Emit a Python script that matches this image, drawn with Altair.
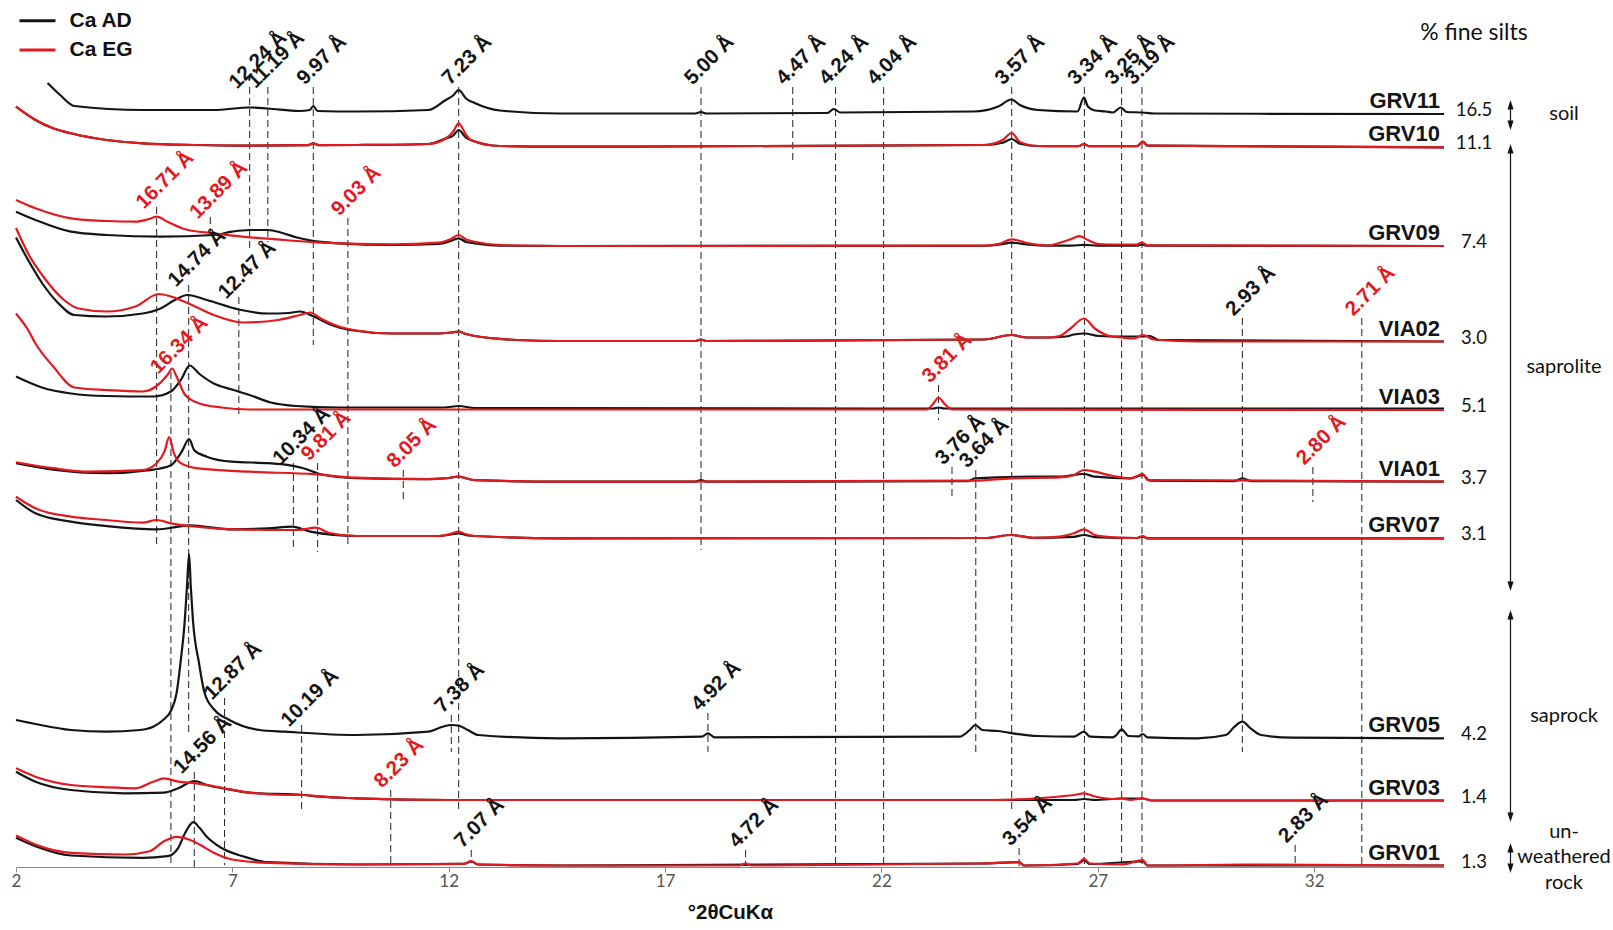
import altair as alt
import pandas as pd

# ---------------- data ----------------
SAMPLES = ["GRV11", "GRV10", "GRV09", "VIA02", "VIA03", "VIA01", "GRV07", "GRV05", "GRV03", "GRV01"]
FINE_SILTS = ["16.5", "11.1", "7.4", "3.0", "5.1", "3.7", "3.1", "4.2", "1.4", "1.3"]
OFFSETS = [753.5, 720.3, 621, 525.5, 457.5, 385.3, 328.7, 128.7, 66.5, 1.5]

GRV11_AD_2T = [2.73, 3.02, 3.35, 4.93, 6.57, 7.40, 7.82, 8.55, 8.79, 8.87, 8.97, 9.87, 11.53, 11.93, 12.1, 12.23, 12.4, 12.6, 13.18, 14.57,
               17.7, 17.83, 17.95, 20.75, 20.90, 21.05, 24.13, 24.70, 25.0, 25.2, 25.62, 26.53, 26.68, 26.77, 26.93, 27.19, 27.35, 27.53, 27.67, 28.02,
               28.3, 35.0]
GRV11_AD_I = [30.5, 18.5, 7.5, 3.5, 3.5, 6, 5, 2.5, 3.5, 7.5, 2.5, 2, 3.5, 13.5, 18, 23.5, 15, 10.5, 3, 0,
              0, 1.5, 0, 0.5, 4.5, 1, 2, 7, 14, 8.5, 3.5, 2, 16, 7, 3, 2, 1, 6, 1.5, 1,
              0, -0.5]

GRV10_2T = [2.0, 2.45, 2.86, 3.27, 4.09, 4.93, 6.15, 7.40, 8.75, 8.87, 9.0, 9.87, 11.53, 11.94, 12.1, 12.23, 12.4, 12.51, 13.18, 14.57,
            24.37, 24.80, 25.01, 25.2, 25.62, 26.55, 26.68, 26.8, 27.9, 28.04, 28.15, 35.0]
GRV10_EG_I = [40, 26.7, 18.4, 13.4, 6.7, 3.4, 1.7, 1, 1.5, 3.4, 1.5, 1.7, 2.7, 8.4, 15, 23.4, 12, 6.7, 0.7, 0,
              1.7, 6.7, 13.7, 4.7, 0.7, 0.5, 2.7, 0.5, 0.5, 5, 1, -0.6]
GRV10_AD_I = [40, 26.7, 18.4, 13.4, 6.7, 3.4, 1.7, 1, 1.5, 3.4, 1.5, 1.7, 2.7, 8.4, 11, 16.7, 9, 6.7, 0.7, 0,
              1.7, 4, 7.7, 3, 0.7, 0.5, 2.7, 0.5, 0.5, 5, 1, -0.6]

GRV09_EG_2T = [2.0, 2.45, 3.27, 4.09, 4.76, 5.05, 5.25, 5.50, 5.91, 6.57, 7.40, 8.22, 9.04, 10.70, 11.77, 12.05, 12.23, 12.4, 12.6, 13.18,
               14.57, 24.37, 24.75, 25.01, 25.36, 25.86, 26.12, 26.37, 26.57, 26.77, 27.02, 27.4, 27.9, 28.02, 28.15, 35.0]
GRV09_EG_I = [46, 37.7, 27.7, 25, 24.3, 26.7, 29.3, 24.3, 16.7, 12.7, 8.7, 6, 3.3, 1.7, 3.3, 7, 11, 6.5, 4.3, 1,
              0, 0.3, 2.5, 6.7, 3, 0.5, 3.3, 6.7, 9.8, 6, 2, 1.5, 1.5, 3.3, 0.7, 0]
GRV09_AD_2T = [2.0, 2.45, 3.27, 4.09, 5.34, 6.57, 6.99, 7.40, 7.82, 8.14, 8.47, 8.82, 9.46, 10.70, 11.77, 12.05, 12.23, 12.4, 12.6, 13.18,
               14.57, 24.37, 24.75, 25.01, 25.36, 25.86, 26.4, 26.68, 27.0, 27.9, 28.02, 28.15, 35.0]
GRV09_AD_I = [34.3, 26, 14.3, 11, 9.3, 11, 14.3, 16, 16, 13.3, 8.7, 5.3, 2.7, 1, 2, 5, 7.7, 4, 2.7, 0.3,
              0, 0.2, 1.5, 3.3, 1.5, 0.3, 0.3, 1.2, 0.3, 0.3, 1.5, 0.3, 0]

VIA02_AD_2T = [2.0, 2.28, 2.61, 2.94, 3.35, 4.09, 4.93, 5.34, 5.67, 5.96, 6.41, 7.15, 7.82, 8.3, 8.56, 8.88, 9.29, 9.71, 10.70, 11.77,
               12.05, 12.23, 12.4, 12.6, 13.59, 14.57, 17.7, 17.83, 17.95, 24.37, 25.0, 25.36, 25.86, 26.26, 26.45, 26.69, 27.02, 27.55, 28.04, 28.2,
               28.4, 35.0]
VIA02_AD_I = [104, 81.5, 58, 40, 26.5, 25, 28, 33, 41.5, 46.5, 41.5, 32, 28, 28.5, 30, 25, 16.5, 11.5, 8, 8,
              9, 10, 7.5, 5.5, 1.5, 0.5, 0.5, 2, 0.5, 2, 6.5, 4, 4, 5, 7, 8, 5.5, 5, 5, 5.5,
              1.5, 0]
VIA02_EG_2T = [2.0, 2.28, 2.69, 3.11, 3.44, 4.09, 4.76, 5.30, 5.58, 5.99, 6.57, 7.24, 8.06, 8.56, 8.80, 9.04, 9.46, 9.87, 10.70, 11.77,
               12.05, 12.23, 12.4, 12.6, 13.59, 14.57, 17.7, 17.83, 17.95, 24.37, 25.0, 25.36, 25.86, 26.12, 26.37, 26.68, 26.93, 27.27, 27.55, 27.83,
               28.04, 28.29, 29.3, 35.0]
VIA02_EG_I = [113.5, 88, 61.5, 41.5, 33, 30, 35, 47.5, 45, 38, 26.5, 19, 21.5, 26.5, 29, 23, 15, 11, 8, 8,
              9, 10, 7.5, 5.5, 1.5, 0.5, 0.5, 2, 0.5, 2, 6.5, 4, 4, 5.5, 13, 23, 13, 5.5, 4, 3,
              6.5, 2, 0, 0]

VIA03_EG_2T = [2.0, 2.28, 2.45, 2.86, 3.35, 4.09, 4.92, 5.25, 5.50, 5.61, 5.71, 5.91, 6.24, 6.74, 7.40, 23.05, 23.2, 23.32, 23.45, 23.63, 35.0]
VIA03_EG_I = [96, 79.5, 66, 43, 22, 19.5, 18, 23.5, 34.5, 41, 33, 14.5, 6, 2, 0, 0, 6, 12, 6, 0, -0.5]
VIA03_AD_2T = [2.0, 2.6, 3.27, 4.09, 5.17, 5.58, 5.83, 6.01, 6.24, 6.57, 6.99, 7.40, 7.89, 8.47, 9.46, 11.9, 12.23, 12.6, 23.2, 23.32, 23.45, 35.0]
VIA03_AD_I = [33, 22, 16, 13.5, 13, 18, 31, 44, 35.5, 26, 20, 14.5, 7, 3.5, 2, 2, 3.5, 1.5, 1, 2, 1, 1]

VIA01_EG_2T = [2.0, 2.86, 3.69, 4.92, 5.25, 5.43, 5.54, 5.65, 5.79, 6.16, 7.40, 8.88, 9.87, 11.53, 11.95, 12.23, 12.6, 14.57, 24.16, 25.0,
               26.12, 26.45, 26.68, 26.93, 27.35, 27.75, 28.04, 28.15, 35.0]
VIA01_EG_I = [19.5, 13.5, 10, 11.5, 18.5, 30, 44.5, 28.5, 19, 13.5, 10, 7.5, 4, 2.5, 3.5, 5, 1.5, 0, 1, 3.4,
              4.3, 6.7, 11.7, 10, 5.7, 3.4, 7.7, 1.7, 0]
VIA01_AD_2T = [2.0, 2.86, 4.09, 5.09, 5.58, 5.83, 6.0, 6.12, 6.41, 6.99, 7.82, 8.30, 8.64, 9.04, 9.87, 11.53, 11.95, 12.23, 12.6, 14.57,
               17.7, 17.83, 17.95, 24.0, 24.16, 25.6, 26.12, 26.68, 26.93, 27.75, 28.04, 28.2, 30.15, 30.34, 30.55, 35.0]
VIA01_AD_I = [18.5, 12, 8.5, 11.5, 16.5, 30, 42.5, 31.5, 25, 20, 18.5, 16.5, 13.5, 7.5, 3.5, 2.5, 3.5, 5, 1.5, 0,
              0, 1.7, 0, 0.5, 3.4, 5, 5, 7.7, 5, 3.4, 6.7, 1, 0.5, 3.4, 0.5, 0]

GRV07_EG_2T = [2.0, 2.45, 3.27, 4.09, 4.92, 5.25, 5.58, 6.0, 6.99, 8.22, 8.50, 8.93, 9.22, 9.87, 11.77, 12.05, 12.23, 12.4, 12.6, 14.57,
               24.4, 25.0, 25.5, 26.12, 26.45, 26.68, 26.93, 27.35, 27.9, 28.04, 28.15, 35.0]
GRV07_EG_I = [41.6, 30, 21.6, 18.3, 15.6, 18.3, 15, 12.3, 9, 8.3, 8.3, 10.6, 5.6, 2.3, 2.3, 4.5, 6.6, 4, 2.3, 0,
              0.3, 3.3, 0.5, 1.7, 5, 9, 3.3, 1, 0.3, 2.3, 0, 0]
GRV07_AD_2T = [2.0, 2.45, 3.27, 4.09, 5.25, 5.75, 6.0, 6.99, 7.82, 8.39, 8.80, 9.87, 11.77, 12.05, 12.23, 12.4, 12.6, 14.57, 24.4, 25.0,
               25.5, 26.45, 26.68, 26.93, 27.9, 28.04, 28.15, 35.0]
GRV07_AD_I = [38.3, 25, 16.6, 12.3, 9, 11.6, 13, 9, 10, 11.6, 6.6, 2.3, 2.3, 3.8, 5, 3.2, 2.3, 0, 0.3, 3.3,
              0.5, 1.5, 3.3, 1.2, 0.3, 1.7, 0, 0]

GRV05_AD_2T = [2.0, 2.45, 3.27, 4.09, 4.86, 5.17, 5.40, 5.59, 5.71, 5.80, 5.90, 5.95, 6.0, 6.04, 6.09, 6.23, 6.36, 6.59, 6.93, 7.63,
               8.22, 9.87, 11.53, 11.86, 12.06, 12.23, 12.44, 12.68, 14.57, 17.85, 17.99, 18.14, 23.80, 24.04, 24.17, 24.33, 24.70, 25.03, 25.61, 26.45,
               26.68, 26.82, 27.35, 27.43, 27.55, 27.71, 27.95, 28.04, 28.15, 29.3, 29.96, 30.16, 30.34, 30.53, 30.77, 31.5, 35.0]
GRV05_AD_I = [18.3, 14.3, 8.3, 6.6, 8.3, 11.6, 18.3, 28.3, 45, 75, 117.6, 151, 184.3, 151, 117.6, 75, 45, 28.3, 18.3, 8.3,
              6.6, 3.3, 6.6, 11.6, 13.3, 12.6, 8.3, 3.3, 0, 1.6, 5, 1, 1.6, 8.3, 13.3, 8.3, 7.3, 5, 2.3, 1.6,
              6.6, 1.6, 1, 3.3, 9, 2.3, 2, 4.3, 1, 0, 3.3, 11.6, 16.6, 10, 3.3, 0.6, 0]

GRV03_EG_2T = [2.0, 2.45, 3.27, 4.09, 4.76, 5.17, 5.42, 5.75, 6.16, 6.82, 7.40, 8.22, 8.64, 9.04, 9.87, 12.0, 14.57, 24.5, 25.61, 26.12,
               26.45, 26.68, 26.93, 27.35, 27.55, 27.75, 28.04, 28.25, 35.0]
GRV03_EG_I = [32.2, 23.8, 15.5, 13.2, 12.2, 18.8, 22.2, 18.8, 17.2, 12.2, 7.8, 5.5, 5.5, 3.8, 2.2, 0.5, 0.5, 0.5, 2.2, 4,
              5.5, 7.2, 4, 1.5, 2, 0.5, 2, 0, 0]
GRV03_AD_2T = [2.0, 2.45, 3.27, 4.51, 5.42, 5.75, 6.12, 6.41, 6.91, 7.40, 8.64, 9.04, 9.87, 12.0, 14.57, 26.45, 26.68, 26.93, 27.55, 28.04, 28.25, 35.0]
GRV03_AD_I = [28.8, 18.8, 10.5, 7.2, 7.8, 12.2, 19.5, 15.5, 11.2, 7.8, 5.5, 3.8, 2.2, 0.5, 0.5, 0.5, 1.5, 0.5, 2, 2, 0, 0]

GRV01_EG_2T = [2.0, 2.45, 3.27, 4.51, 5.09, 5.42, 5.71, 6.0, 6.24, 6.57, 6.99, 7.82, 9.87, 12.35, 12.52, 12.68, 14.57, 18.7, 18.86, 19.0,
               24.29, 25.18, 25.3, 26.53, 26.68, 26.82, 27.55, 28.04, 28.15, 30.34, 35.0]
GRV01_EG_I = [30, 21, 12.7, 11, 14.3, 24.3, 28.7, 26, 21, 12.7, 6, 2.7, 1, 1.7, 4.3, 1, 0, 0, 2, 0,
              2, 3.3, 0, 2, 6.7, 2, 1, 5.3, 0, 1, 0]
GRV01_AD_2T = [2.0, 2.45, 3.27, 4.92, 5.50, 5.75, 5.91, 6.10, 6.24, 6.41, 6.74, 7.24, 7.82, 9.87, 12.35, 12.52, 12.68, 14.57, 24.29, 25.18,
               25.3, 26.53, 26.68, 26.82, 28.04, 28.15, 35.0]
GRV01_AD_I = [27.7, 19.3, 10, 7.7, 9.3, 17.7, 32.7, 43.3, 37.7, 28.7, 17.7, 9.3, 3.3, 1, 1.7, 4, 1, 0, 2, 3.3,
              0, 1.5, 5.3, 1.5, 4, 0, 0]

# peak markers: d-spacing label, position (°2θ), treatment, vertical extent (intensity units)
PEAK_D = ["12.24", "11.19", "9.97", "7.23", "5.00", "4.47", "4.24", "4.04", "3.57", "3.34", "3.25", "3.19",
          "16.71", "13.89", "9.03", "14.74", "12.47", "2.93", "2.71", "16.34", "3.81",
          "10.34", "9.81", "8.05", "3.76", "3.64", "2.80", "12.87", "10.19", "7.38", "4.92",
          "14.56", "8.23", "7.07", "4.72", "3.54", "2.83"]
PEAK_2T = [7.40, 7.82, 8.87, 12.23, 17.83, 19.95, 20.94, 22.05, 25.01, 26.69, 27.55, 28.02,
           5.25, 6.49, 9.67, 5.99, 7.15, 30.34, 33.10, 5.58, 23.32,
           8.41, 8.97, 10.95, 23.63, 24.18, 31.97, 6.82, 8.60, 12.06, 17.99,
           6.12, 10.66, 12.52, 18.86, 25.18, 31.56]
PEAK_SET = ["AD"] * 12 + ["EG", "EG", "EG", "AD", "AD", "AD", "EG", "EG", "EG",
                          "AD", "EG", "EG", "AD", "AD", "EG", "AD", "AD", "AD", "AD",
                          "AD", "EG", "AD", "AD", "AD", "AD"]
PEAK_TOP = [780] * 12 + [660, 650, 649, 582, 570, 549, 549, 495, 482,
                         404, 404, 397, 400, 397, 400, 169, 142, 152, 154,
                         95, 77, 17, 17, 19, 22]
PEAK_BOTTOM = [617, 625, 522, 57, 317, 705, 0, 0, 57, 0, 0, 0,
               319, 634, 319, 132, 449, 115, 1, 2, 447,
               317, 315, 367, 367, 115, 365, 2, 57, 115, 115,
               0, 2, 4, 1, 0, 1]

X_TICKS = [2, 7, 12, 17, 22, 27, 32]
ZONES = ["soil", "saprolite", "saprock", "un-", "weathered", "rock"]

# ---------------- styles / layout ----------------
BLACK = "#141414"
RED = "#e3191f"
W, H = 1428, 867
BOLD = "Liberation Sans"
SOFT = "Lato"

TRACES = [
    ("GRV11", "AD", GRV11_AD_2T, GRV11_AD_I),
    ("GRV10", "AD", GRV10_2T, GRV10_AD_I), ("GRV10", "EG", GRV10_2T, GRV10_EG_I),
    ("GRV09", "AD", GRV09_AD_2T, GRV09_AD_I), ("GRV09", "EG", GRV09_EG_2T, GRV09_EG_I),
    ("VIA02", "AD", VIA02_AD_2T, VIA02_AD_I), ("VIA02", "EG", VIA02_EG_2T, VIA02_EG_I),
    ("VIA03", "AD", VIA03_AD_2T, VIA03_AD_I), ("VIA03", "EG", VIA03_EG_2T, VIA03_EG_I),
    ("VIA01", "AD", VIA01_AD_2T, VIA01_AD_I), ("VIA01", "EG", VIA01_EG_2T, VIA01_EG_I),
    ("GRV07", "AD", GRV07_AD_2T, GRV07_AD_I), ("GRV07", "EG", GRV07_EG_2T, GRV07_EG_I),
    ("GRV05", "AD", GRV05_AD_2T, GRV05_AD_I),
    ("GRV03", "AD", GRV03_AD_2T, GRV03_AD_I), ("GRV03", "EG", GRV03_EG_2T, GRV03_EG_I),
    ("GRV01", "AD", GRV01_AD_2T, GRV01_AD_I), ("GRV01", "EG", GRV01_EG_2T, GRV01_EG_I),
]

rows = []
for name, s, tt, ii in TRACES:
    off = OFFSETS[SAMPLES.index(name)]
    for t, i in zip(tt, ii):
        rows.append({"sample": name, "set": s, "theta": t, "value": off + i})
df = pd.DataFrame(rows)

peaks = pd.DataFrame({"theta": PEAK_2T, "set": PEAK_SET, "top": PEAK_TOP, "bottom": PEAK_BOTTOM,
                      "label": [d + " Å" for d in PEAK_D]})
samp = pd.DataFrame({"sample": SAMPLES, "off": OFFSETS, "silt": FINE_SILTS})

XS = alt.Scale(domain=[2, 35], nice=False, zero=False)
YS = alt.Scale(domain=[0, H], nice=False, zero=False)
CS = alt.Scale(domain=["AD", "EG"], range=[BLACK, RED])
AX = alt.Axis(values=X_TICKS, title="°2θCuKα", grid=False, labelFlush=False,
              domainColor="#8a8a8a", tickColor="#8a8a8a", tickSize=5, labelColor="#555555",
              labelFont=SOFT, labelFontSize=17, labelPadding=1,
              titleFont=BOLD, titleFontSize=20.5, titleFontWeight="bold", titleColor="#111111", titlePadding=13)

def xenc():
    return alt.X("theta:Q", scale=XS, axis=AX)

lines = []
for s, col in [("AD", BLACK), ("EG", RED)]:
    lines.append(
        alt.Chart(df[df["set"] == s]).mark_line(interpolate="monotone", strokeWidth=2.2, color=col).encode(
            x=xenc(), y=alt.Y("value:Q", scale=YS, axis=None), detail="sample:N", order="theta:Q")
    )

rules = alt.Chart(peaks).mark_rule(strokeDash=[7, 4], strokeWidth=1, color="#222222").encode(
    x=xenc(), y=alt.Y("top:Q", scale=YS, axis=None), y2="bottom:Q")

plabels = alt.Chart(peaks).mark_text(angle=315, align="center", baseline="middle", dx=25, dy=-13,
                                     font=BOLD, fontSize=20.5, fontWeight="bold").encode(
    x=xenc(), y=alt.Y("top:Q", scale=YS, axis=None), text="label:N",
    color=alt.Color("set:N", scale=CS, legend=None))

names = alt.Chart(samp).mark_text(align="right", baseline="alphabetic", dy=-6, font=BOLD, fontSize=22,
                                  fontWeight="bold", color=BLACK).encode(
    x=alt.value(1424), y=alt.Y("off:Q", scale=YS, axis=None), text="sample:N")

silts = alt.Chart(samp).mark_text(align="center", baseline="middle", dy=-4, font=SOFT, fontSize=18.5,
                                  color="#111111").encode(
    x=alt.value(1458), y=alt.Y("off:Q", scale=YS, axis=None), text="silt:N")

one = pd.DataFrame({"a": [0]})
annots = []

def txt(t, x, y, size, font=SOFT, weight="normal", align="center", color="#111111"):
    annots.append(alt.Chart(one).mark_text(text=t, align=align, baseline="middle", font=font, fontSize=size,
                                           fontWeight=weight, color=color).encode(x=alt.value(x), y=alt.value(y)))

# legend
for (lab, col, y) in [("Ca AD", BLACK, 20.7), ("Ca EG", RED, 50)]:
    annots.append(alt.Chart(one).mark_rule(color=col, strokeWidth=3).encode(
        x=alt.value(3.5), x2=alt.value(39.5), y=alt.value(y)))
    txt(lab, 53.5, y, 21, font=BOLD, weight="bold", align="left")

txt("% fine silts", 1458, 33, 23)

# zone arrows
AXPX = 1494.5
UP = "M0,0 L-0.32,1 L0.32,1 Z"
DOWN = "M0,0 L-0.32,-1 L0.32,-1 Z"
for (y1, y2) in [(100, 130), (144, 591), (610, 822), (843, 873)]:
    annots.append(alt.Chart(one).mark_rule(color="#111111", strokeWidth=1.2).encode(
        x=alt.value(AXPX), y=alt.value(y1 + 3), y2=alt.value(y2 - 3)))
    for yy, shp in [(y1, UP), (y2, DOWN)]:
        annots.append(alt.Chart(one).mark_point(shape=shp, filled=True, size=360, color="#111111", opacity=1,
                                                strokeWidth=0).encode(x=alt.value(AXPX), y=alt.value(yy)))

for z, y in zip(ZONES, [114, 367, 716, 832, 857, 883]):
    txt(z, 1548, y, 20)

chart = alt.layer(rules, *lines, plabels, names, silts, *annots).properties(
    width=W, height=H,
    padding={"left": 16, "top": 0, "right": 169, "bottom": 63},
    autosize=alt.AutoSizeParams(type="none"),
).configure_view(stroke=None)

chart.save("out.html", embed_options={"renderer": "svg", "actions": False})
